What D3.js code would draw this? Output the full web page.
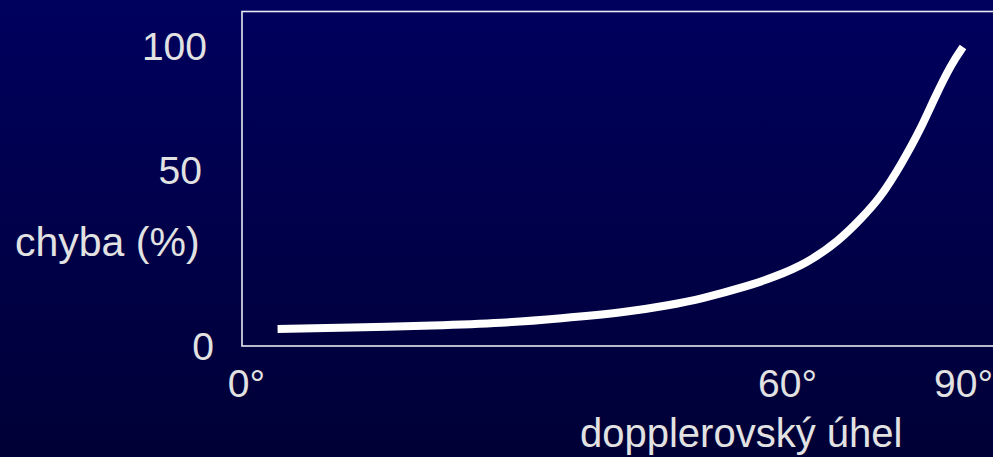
<!DOCTYPE html>
<html>
<head>
<meta charset="utf-8">
<script src="https://cdn.jsdelivr.net/npm/d3@7"></script>
<style>
  html, body { margin: 0; padding: 0; background: #000048; overflow: hidden; }
  svg { display: block; }
  text { font-family: "Liberation Sans", Arial, sans-serif; fill: #e2e2e2; }
</style>
</head>
<body>
<svg id="chart" width="993" height="457"></svg>
<script>
// Doppler angle (degrees) vs. velocity error (%)
const angles = [3.5, 11.5, 21.0, 28.5, 34.8, 42.3, 47.0, 50.4, 55.9, 58.4, 63.4, 69.0, 72.4, 75.9, 79.6, 82.7, 85.2, 88.1, 90.0];
const errors = [5.1, 5.5, 6.1, 6.8, 8.1, 9.9, 11.9, 13.6, 17.5, 19.7, 23.7, 30.4, 36.1, 42.3, 53.2, 66.5, 79.8, 93.5, 100.0];

const xTicks = [0, 60, 90];
const yTicks = [0, 50, 100];
const xTitle = "dopplerovský úhel";
const yTitle = "chyba (%)";

const W = 993, H = 457;
const frame = { left: 242, top: 11.5, right: 1000, bottom: 346 };

const svg = d3.select("#chart");

// background gradient
const defs = svg.append("defs");
const grad = defs.append("linearGradient")
  .attr("id", "bg").attr("x1", 0).attr("y1", 0).attr("x2", 0).attr("y2", 1);
grad.append("stop").attr("offset", "0%").attr("stop-color", "#00005e");
grad.append("stop").attr("offset", "100%").attr("stop-color", "#000036");
svg.append("rect").attr("width", W).attr("height", H).attr("fill", "url(#bg)");

// scales (tick spacing on this slide is uneven, so both are piecewise)
const x = d3.scaleLinear().domain(xTicks).range([246, 787, 963]);
const y = d3.scaleLinear().domain(yTicks).range([347, 171, 47]);

// plot frame
svg.append("rect")
  .attr("x", frame.left).attr("y", frame.top)
  .attr("width", frame.right - frame.left).attr("height", frame.bottom - frame.top)
  .attr("fill", "none").attr("stroke", "#e8e8f0").attr("stroke-width", 1.6);

const fontSize = 39;

// x axis labels
const gx = svg.append("g")
  .attr("transform", `translate(0,${frame.bottom})`)
  .call(d3.axisBottom(x).tickValues(xTicks).tickSize(0).tickPadding(23).tickFormat(d => d + "°"));
gx.select(".domain").remove();
gx.selectAll("text").style("font-size", fontSize + "px").attr("fill", "#e2e2e2");

// y axis labels
const yNudge = { 0: 7, 50: -5, 100: 0 };
const gy = svg.append("g")
  .attr("transform", `translate(${frame.left},0)`)
  .call(d3.axisLeft(y).tickValues(yTicks).tickSize(0).tickPadding(35));
gy.select(".domain").remove();
gy.selectAll("text")
  .style("font-size", fontSize + "px").attr("fill", "#e2e2e2")
  .attr("dx", d => yNudge[d]);

// axis titles
svg.append("text").attr("x", 15).attr("y", 256)
  .style("font-size", "41px").text(yTitle);
svg.append("text").attr("x", 580).attr("y", 447)
  .style("font-size", "40px").text(xTitle);

// error curve
const pts = angles.map((a, i) => [a, errors[i]]);
const line = d3.line()
  .x(d => x(d[0])).y(d => y(d[1]))
  .curve(d3.curveBasis);
svg.append("path")
  .attr("d", line(pts))
  .attr("fill", "none").attr("stroke", "#ffffff")
  .attr("stroke-width", 8).attr("stroke-linecap", "butt");
</script>
</body>
</html>
